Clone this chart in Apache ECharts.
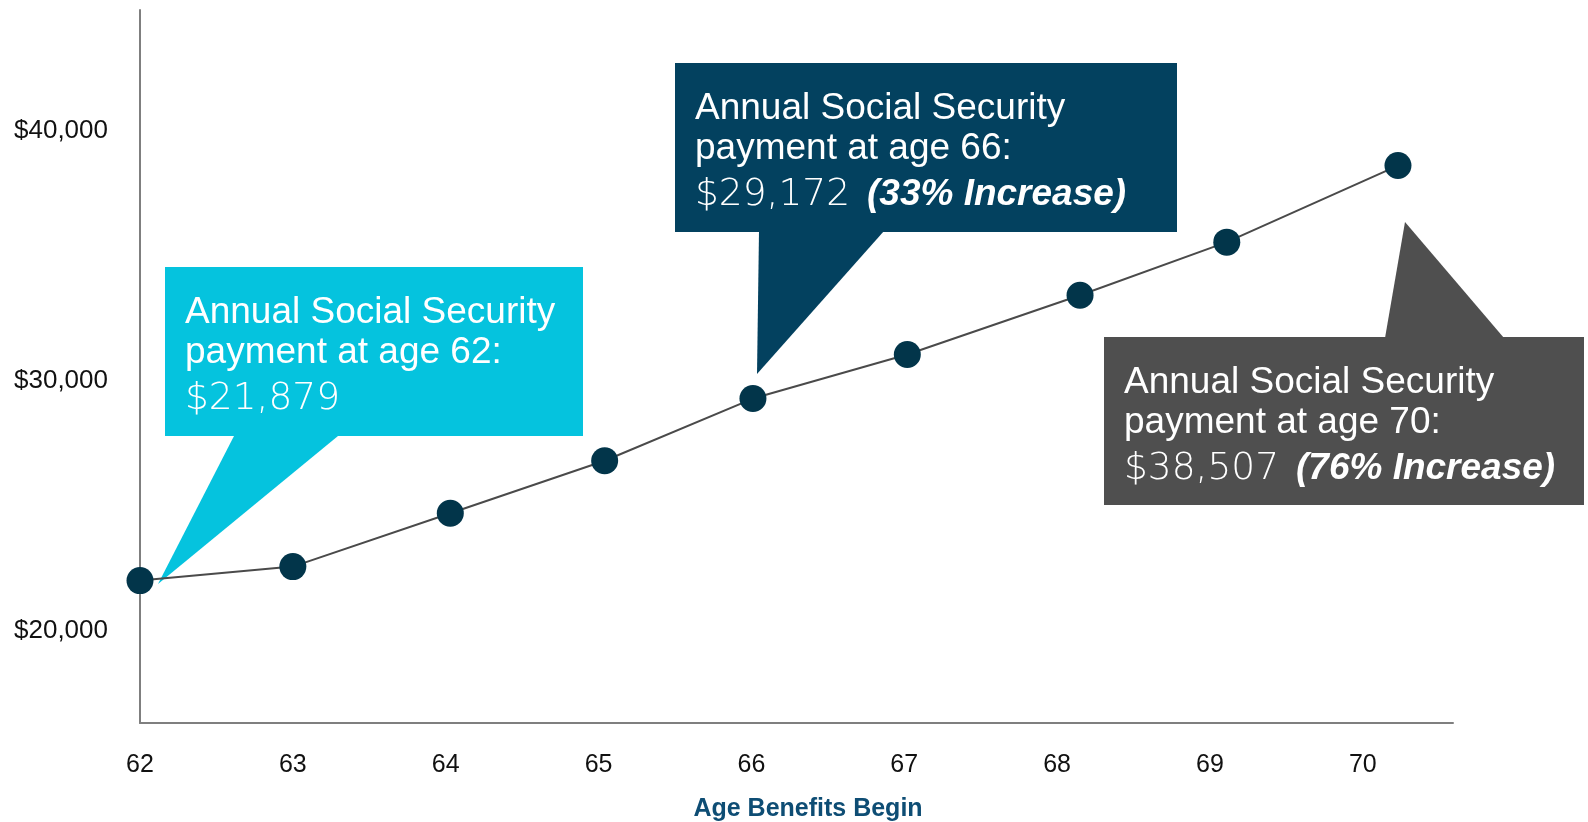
<!DOCTYPE html>
<html>
<head>
<meta charset="utf-8">
<title>Annual Social Security payment by age benefits begin</title>
<script src="https://cdn.jsdelivr.net/npm/echarts@6/dist/echarts.min.js"></script>
<style>
  html, body { margin: 0; padding: 0; background: #ffffff; }
  #chart { width: 1588px; height: 822px; }
</style>
</head>
<body>
<div id="chart"></div>
<script>
// Age at which benefits begin (axis tick labels)
const ages = [62, 63, 64, 65, 66, 67, 68, 69, 70];
// Where each marker sits along the age axis
const markerAges = [62.0, 63.0, 64.03, 65.04, 66.01, 67.02, 68.15, 69.11, 70.23];
// Annual payment for each starting age (USD)
const payments = [21879, 22440, 24580, 26680, 29172, 30940, 33310, 35440, 38507];
// Payment axis tick labels
const paymentTicks = [20000, 30000, 40000];

// Callouts: which point they describe and the increase over age 62
const calloutIndex = [0, 4, 8];
const calloutIncrease = [null, '33%', '76%'];
const calloutColors = ['#05c3de', '#03415f', '#4f4f4f'];

const fmtUSD = v => '$' + v.toLocaleString('en-US');

const chart = echarts.init(document.getElementById('chart'), null, { renderer: 'canvas' });

const SANS = '"Liberation Sans", Arial, Helvetica, sans-serif';
const LIGHT = '"DejaVu Sans", sans-serif';

// Callout box geometry and pointer triangle
const boxes = [
  { x: 165, y: 267, w: 418, h: 169, ptr: [[234, 436], [338, 436], [158, 584]] },
  { x: 675, y: 63,  w: 502, h: 169, ptr: [[759, 231], [884, 231], [757, 374]] },
  { x: 1104, y: 337, w: 480, h: 168, ptr: [[1385, 338], [1504, 338], [1405, 222]] }
];

const graphics = [];
calloutIndex.forEach((idx, k) => {
  const b = boxes[k];
  const color = calloutColors[k];
  const tx = b.x + 20;
  const inc = calloutIncrease[k];
  const line3 = '{v|' + fmtUSD(payments[idx]) + (inc ? ' ' : '') + '}' +
    (inc ? '{b|(' + inc + ' Increase)}' : '');
  graphics.push({
    type: 'group',
    z: 1,
    children: [
      { type: 'polygon', shape: { points: b.ptr }, style: { fill: color }, silent: true },
      { type: 'rect', shape: { x: b.x, y: b.y, width: b.w, height: b.h }, style: { fill: color }, silent: true },
      { type: 'text', silent: true, style: {
          x: tx, y: b.y + 46, text: 'Annual Social Security', fill: '#ffffff',
          font: '37px ' + SANS, align: 'left', verticalAlign: 'middle',
          textAlign: 'left', textVerticalAlign: 'middle' } },
      { type: 'text', silent: true, style: {
          x: tx, y: b.y + 86, text: 'payment at age ' + ages[idx] + ':', fill: '#ffffff',
          font: '37px ' + SANS, align: 'left', verticalAlign: 'middle',
          textAlign: 'left', textVerticalAlign: 'middle' } },
      { type: 'text', silent: true, style: {
          x: tx, y: b.y + 132, text: line3, fill: '#ffffff',
          align: 'left', verticalAlign: 'middle',
          textAlign: 'left', textVerticalAlign: 'middle',
          rich: {
            v: { fontFamily: LIGHT, fontWeight: 200, fontSize: 37.5, fill: '#ffffff', color: '#ffffff', lineHeight: 44 },
            b: { fontFamily: SANS, fontSize: 37, fontWeight: 'bold', fontStyle: 'italic',
                 fill: '#ffffff', color: '#ffffff', lineHeight: 44, padding: [0, 0, 0, 5] }
          } } }
    ]
  });
});

// Axis title
graphics.push({
  type: 'text', silent: true, z: 1,
  style: {
    x: 808, y: 809, text: 'Age Benefits Begin', fill: '#0e4d74',
    font: 'bold 25px ' + SANS, align: 'center', verticalAlign: 'middle',
    textAlign: 'center', textVerticalAlign: 'middle'
  }
});

const option = {
  backgroundColor: '#ffffff',
  animation: false,
  grid: { left: 140, right: 135, top: 10, bottom: 99, containLabel: false },
  xAxis: {
    type: 'value',
    min: 62,
    max: 70.59,
    splitLine: { show: false },
    axisTick: { show: false },
    axisLine: { show: true, onZero: false, lineStyle: { color: '#7f7f7f', width: 2 } },
    axisLabel: {
      customValues: ages,
      color: '#111111', fontFamily: SANS, fontSize: 25, margin: 30,
      formatter: v => String(v)
    }
  },
  yAxis: {
    type: 'value',
    min: 16174,
    max: 44740,
    splitLine: { show: false },
    axisTick: { show: false },
    axisLine: { show: true, lineStyle: { color: '#7f7f7f', width: 2 } },
    axisLabel: {
      customValues: paymentTicks,
      color: '#111111', fontFamily: SANS, fontSize: 26, margin: 32,
      verticalAlign: 'top', lineHeight: 6,
      formatter: v => fmtUSD(v)
    }
  },
  series: [{
    type: 'line',
    z: 3,
    data: markerAges.map((a, i) => [a, payments[i]]),
    symbol: 'circle',
    symbolSize: 27,
    itemStyle: { color: '#02354a', borderWidth: 0 },
    lineStyle: { color: '#4a4a4a', width: 2 },
    emphasis: { disabled: true }
  }],
  graphic: graphics
};

chart.setOption(option);
</script>
</body>
</html>
